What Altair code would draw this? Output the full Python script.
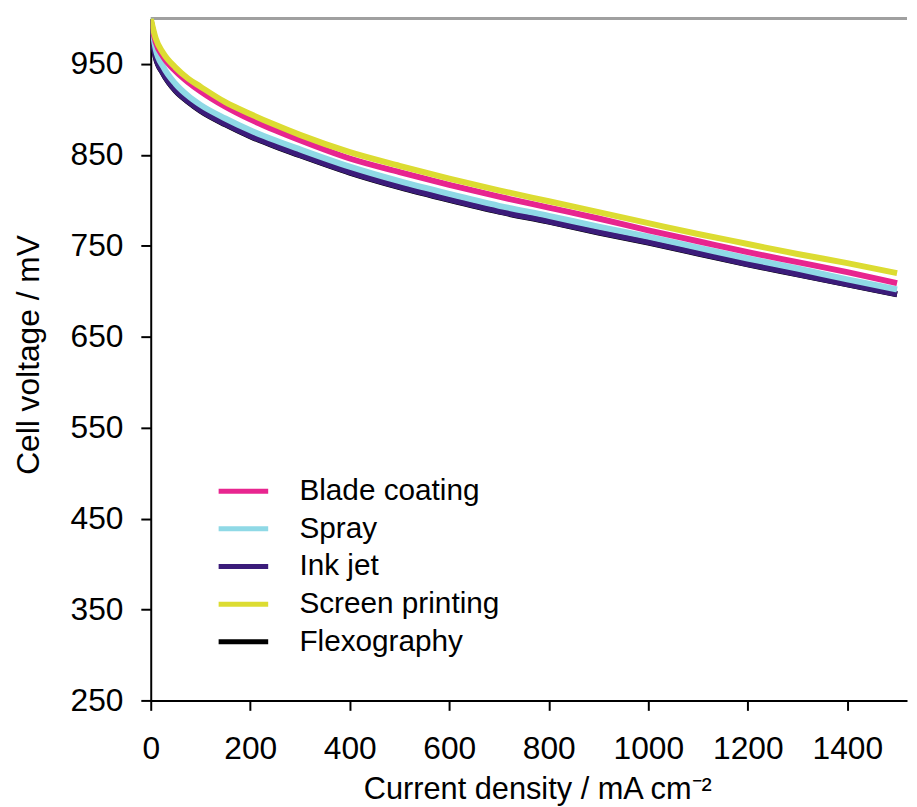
import altair as alt
import pandas as pd

# Current density (mA cm-2)
current = [0, 10, 25, 50, 75, 100, 150, 200, 250, 300, 400, 500, 600, 700,
           800, 900, 1000, 1100, 1200, 1300, 1400, 1500]

# Cell voltage (mV) per series
blade_coating = [998, 974, 958, 942, 930, 920, 903, 889, 877, 866, 846, 831, 817, 804,
                 792, 780, 767, 755, 743, 732, 721, 709]
spray = [1000, 966, 947, 928, 915, 905, 890, 877, 866, 856, 837, 821, 807, 794,
         783, 771, 760, 748, 736, 725, 713, 702]
ink_jet = [990, 958, 940, 921, 909, 899, 884, 871, 860, 850, 831, 815, 801, 788,
           777, 765, 754, 742, 730, 719, 708, 697]
screen_printing = [1000, 978, 962, 946, 934, 925, 908, 895, 883, 872, 853, 838, 824, 811,
                   799, 787, 775, 763, 752, 741, 731, 720]
flexography = [989.5, 957.5, 939.5, 920.5, 908.5, 898.5, 883.5, 870.5, 859.5, 849.5, 830.5,
               814.5, 800.5, 787.5, 776.5, 764.5, 753.5, 741.5, 729.5, 718.5, 707.5, 696.5]

series_names = ["Blade coating", "Spray", "Ink jet", "Screen printing", "Flexography"]
series_colors = ["#e8258f", "#8fd9e6", "#3b1c7a", "#dcdc32", "#000000"]
draw_order = ["Flexography", "Ink jet", "Spray", "Blade coating", "Screen printing"]

x_ticks = [0, 200, 400, 600, 800, 1000, 1200, 1400]
y_ticks = [250, 350, 450, 550, 650, 750, 850, 950]

rows = []
for name, vals in zip(series_names, [blade_coating, spray, ink_jet, screen_printing, flexography]):
    for x, v in zip(current, vals):
        rows.append({"series": name, "current": x, "voltage": v})
df = pd.DataFrame(rows)

FONT = "Liberation Sans"

x_enc = alt.X("current:Q",
              scale=alt.Scale(domain=[0, 1520], nice=False, zero=False),
              axis=alt.Axis(values=x_ticks, format="d", grid=False, tickSize=10, tickWidth=2,
                            domainWidth=2, domainColor="#000", tickColor="#000",
                            labelFontSize=32, labelFont=FONT, labelColor="#000",
                            labelPadding=24, labelFlush=False,
                            title="Current density / mA cm⁻²", titleFont=FONT,
                            titleFontSize=31, titleFontWeight="normal", titleColor="#000",
                            titleX=390, titleY=99, titleBaseline="alphabetic",
                            titleAlign="center"))
y_enc = alt.Y("voltage:Q",
              scale=alt.Scale(domain=[250, 1000], nice=False, zero=False),
              axis=alt.Axis(values=y_ticks, format="d", grid=False, tickSize=10, tickWidth=2,
                            domainWidth=2, domainColor="#000", tickColor="#000",
                            labelFontSize=32, labelFont=FONT, labelColor="#000",
                            labelPadding=18, labelFlush=False,
                            title="Cell voltage / mV", titleFont=FONT,
                            titleFontSize=32, titleFontWeight="normal", titleColor="#000",
                            titleX=-123, titleY=339, titleAngle=-90,
                            titleBaseline="middle", titleAlign="center"))
color_enc = alt.Color("series:N",
                      scale=alt.Scale(domain=series_names, range=series_colors),
                      legend=alt.Legend(orient="none", legendX=66, legendY=458, title=None,
                                        symbolType="stroke", symbolSize=2500,
                                        symbolStrokeWidth=5, labelFontSize=30,
                                        labelFont=FONT, labelColor="#000", labelLimit=400,
                                        labelOffset=29, rowPadding=0, clipHeight=37.75))

top_line = alt.Chart(pd.DataFrame({"y": [1000]})).mark_rule(
    color="#a0a0a0", strokeWidth=3).encode(y=alt.Y("y:Q"))

layers = [top_line]
for name in draw_order:
    layers.append(
        alt.Chart(df).transform_filter(alt.datum.series == name)
        .mark_line(strokeWidth=6, interpolate="monotone", clip=True)
        .encode(x=x_enc, y=y_enc, color=color_enc)
    )

chart = alt.layer(*layers).properties(
    width=763, height=688,
    autosize=alt.AutoSizeParams(type="none"),
    padding={"left": 144, "top": 7, "right": 2, "bottom": 110},
).configure_view(stroke=None)

chart.save("out.html", embed_options={"renderer": "svg", "actions": False})
